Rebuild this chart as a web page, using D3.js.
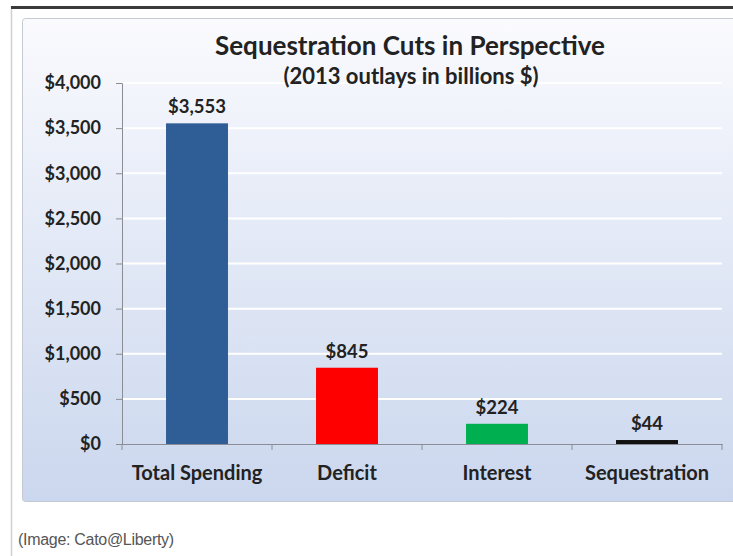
<!DOCTYPE html>
<html lang="en">

<head>
    <meta charset="UTF-8">
    <title>Sequestration Cuts in Perspective</title>
    <script src="https://d3js.org/d3.v7.min.js"></script>
    <style>
        body {
            margin: 0;
            background: #ffffff;
        }

        svg {
            display: block;
            font-family: Lato, "Open Sans", sans-serif;
        }
    </style>
</head>

<body>
    <svg width="733" height="556"></svg>

    <script>
        // data
        const categories = ["Total Spending", "Deficit", "Interest", "Sequestration"];
        const outlays = [3553, 845, 224, 44];
        const yTicks = [0, 500, 1000, 1500, 2000, 2500, 3000, 3500, 4000];

        const barColors = ["#2f5d95", "#ff0000", "#00b050", "#111111"];

        const svg = d3.select("svg");

        // panel background gradient
        const defs = svg.append("defs");
        const grad = defs.append("linearGradient")
            .attr("id", "panelGrad")
            .attr("x1", 0).attr("y1", 0)
            .attr("x2", 0).attr("y2", 1);
        grad.append("stop").attr("offset", "0%").attr("stop-color", "#fbfbfe");
        grad.append("stop").attr("offset", "35%").attr("stop-color", "#e8edf8");
        grad.append("stop").attr("offset", "100%").attr("stop-color", "#cbd7ee");

        // page frame
        svg.append("line")
            .attr("x1", 11.5).attr("x2", 11.5)
            .attr("y1", 6).attr("y2", 556)
            .style("stroke", "#d0d0d0")
            .style("stroke-width", 1.5);
        svg.append("rect")
            .attr("x", 11).attr("y", 6)
            .attr("width", 722).attr("height", 3)
            .style("fill", "#3a3a3a");

        svg.append("rect")
            .attr("x", 22.5).attr("y", 18.5)
            .attr("width", 720).attr("height", 483)
            .attr("rx", 3)
            .style("fill", "url(#panelGrad)")
            .style("stroke", "#c4c9d2");

        // scales
        var xScale = d3.scaleBand()
            .domain(categories)
            .range([122, 722])
            .paddingInner(0.587)
            .paddingOuter(0.2935);

        var yScale = d3.scaleLinear()
            .domain([0, 4000])
            .range([444, 83]);

        // gridlines
        svg.append("g")
            .selectAll("line")
            .data(yTicks.filter(d => d > 0))
            .join("line")
            .attr("x1", 122)
            .attr("x2", 722)
            .attr("y1", d => yScale(d))
            .attr("y2", d => yScale(d))
            .style("stroke", "#ffffff")
            .style("stroke-width", 2);

        // bars
        svg.append("g")
            .selectAll("rect")
            .data(outlays)
            .join("rect")
            .attr("x", function (d, i) {
                return xScale(categories[i]);
            })
            .attr("y", d => yScale(d))
            .attr("width", xScale.bandwidth())
            .attr("height", d => yScale(0) - yScale(d))
            .style("fill", function (d, i) {
                return barColors[i];
            });

        // value labels
        svg.append("g")
            .selectAll("text")
            .data(outlays)
            .join("text")
            .attr("x", function (d, i) {
                return xScale(categories[i]) + xScale.bandwidth() / 2;
            })
            .attr("y", d => yScale(d) - 10)
            .attr("text-anchor", "middle")
            .attr("font-size", 18.5)
            .attr("font-weight", "bold")
            .style("fill", "#222")
            .text(d => "$" + d3.format(",")(d));

        // y axis
        const yAxis = svg.append("g")
            .attr("transform", "translate(122,0)")
            .call(d3.axisLeft(yScale)
                .tickValues(yTicks)
                .tickSize(6)
                .tickPadding(15)
                .tickFormat(d => "$" + d3.format(",")(d)));
        yAxis.select(".domain").style("stroke", "#8a8d93");
        yAxis.selectAll(".tick line").style("stroke", "#8a8d93");
        yAxis.selectAll("text")
            .attr("font-size", 18)
            .attr("font-weight", "bold")
            .attr("font-family", "Lato, sans-serif")
            .style("fill", "#222");

        // x axis (labels)
        const xAxis = svg.append("g")
            .attr("transform", "translate(0,444)")
            .call(d3.axisBottom(xScale).tickSize(0).tickPadding(22));
        xAxis.select(".domain").style("stroke", "#8a8d93");
        xAxis.selectAll("text")
            .attr("font-size", 20)
            .attr("font-weight", "bold")
            .attr("font-family", "Lato, sans-serif")
            .style("fill", "#222");

        // x tick marks between categories
        svg.append("g")
            .selectAll("line")
            .data(d3.range(categories.length + 1))
            .join("line")
            .attr("x1", i => xScale.range()[0] + i * xScale.step())
            .attr("x2", i => xScale.range()[0] + i * xScale.step())
            .attr("y1", 444)
            .attr("y2", 450)
            .style("stroke", "#8a8d93");

        // titles
        svg.append("text")
            .attr("x", 410)
            .attr("y", 55)
            .attr("text-anchor", "middle")
            .attr("font-size", 26)
            .attr("font-weight", "bold")
            .style("fill", "#222")
            .text("Sequestration Cuts in Perspective");

        svg.append("text")
            .attr("x", 411)
            .attr("y", 84)
            .attr("text-anchor", "middle")
            .attr("font-size", 22)
            .attr("font-weight", "bold")
            .style("fill", "#222")
            .text("(2013 outlays in billions $)");

        // caption
        svg.append("text")
            .attr("x", 18)
            .attr("y", 545)
            .attr("font-size", 16)
            .attr("font-family", "'Liberation Sans', sans-serif")
            .attr("letter-spacing", -0.3)
            .style("fill", "#555")
            .text("(Image: Cato@Liberty)");
    </script>
</body>

</html>
